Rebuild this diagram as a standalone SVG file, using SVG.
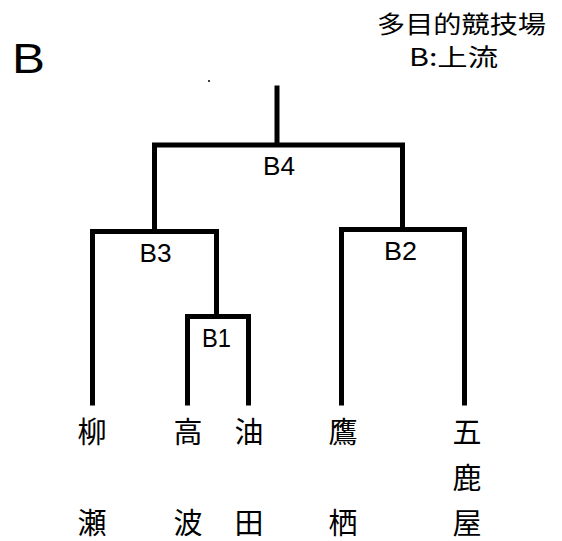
<svg xmlns="http://www.w3.org/2000/svg" width="562" height="541" viewBox="0 0 562 541">
<style>
.ln{fill:none;stroke:#000;stroke-width:5;stroke-linecap:square;stroke-linejoin:miter}
.lbl{font-family:"Liberation Sans",Arial,sans-serif;font-size:25px;fill:#000;text-anchor:middle}
.jp{font-family:"Noto Sans CJK JP","Noto Sans CJK SC",sans-serif;font-size:29px;fill:#000;text-anchor:middle}
.ttl{font-family:"Noto Sans CJK JP","Noto Sans CJK SC",sans-serif;font-size:24px;fill:#000}
</style>
<rect width="562" height="541" fill="#fff"/>
<g id="title">
<text x="12" y="73" font-family="'Liberation Sans',Arial,sans-serif" font-size="42" textLength="33" lengthAdjust="spacingAndGlyphs">B</text>
<text class="ttl" x="377" y="33" textLength="169" lengthAdjust="spacingAndGlyphs">多目的競技場</text>
<text class="ttl" x="409" y="66" textLength="89" lengthAdjust="spacingAndGlyphs">B:上流</text>
<circle cx="209" cy="81" r="1" fill="#000"/>
</g>
<g id="connectors">
<path class="ln" d="M277 88 V145 M154.5 231.5 V145 H402.5 V229.5"/>
<path class="ln" d="M92.5 403 V231.5 H216.5 V316.5"/>
<path class="ln" d="M187.5 403 V316.5 H248.5 V403"/>
<path class="ln" d="M341.5 403 V229.5 H464.5 V403"/>
</g>
<g id="B4"><text class="lbl" x="279" y="175" textLength="32" lengthAdjust="spacingAndGlyphs">B4</text></g>
<g id="B3"><text class="lbl" x="155.5" y="262" textLength="32" lengthAdjust="spacingAndGlyphs">B3</text></g>
<g id="B2"><text class="lbl" x="400.5" y="260" textLength="33" lengthAdjust="spacingAndGlyphs">B2</text></g>
<g id="B1"><text class="lbl" x="216.5" y="347" textLength="29" lengthAdjust="spacingAndGlyphs">B1</text></g>
<g id="leaf-yanase"><text class="jp" x="92" y="443">柳</text><text class="jp" x="92" y="534">瀬</text></g>
<g id="leaf-takanami"><text class="jp" x="188" y="443">高</text><text class="jp" x="188" y="534">波</text></g>
<g id="leaf-yuda"><text class="jp" x="249" y="443">油</text><text class="jp" x="249" y="534">田</text></g>
<g id="leaf-takasu"><text class="jp" x="343" y="443">鷹</text><text class="jp" x="343" y="534">栖</text></g>
<g id="leaf-gokaya"><text class="jp" x="467" y="443">五</text><text class="jp" x="467" y="489">鹿</text><text class="jp" x="467" y="534">屋</text></g>
</svg>
